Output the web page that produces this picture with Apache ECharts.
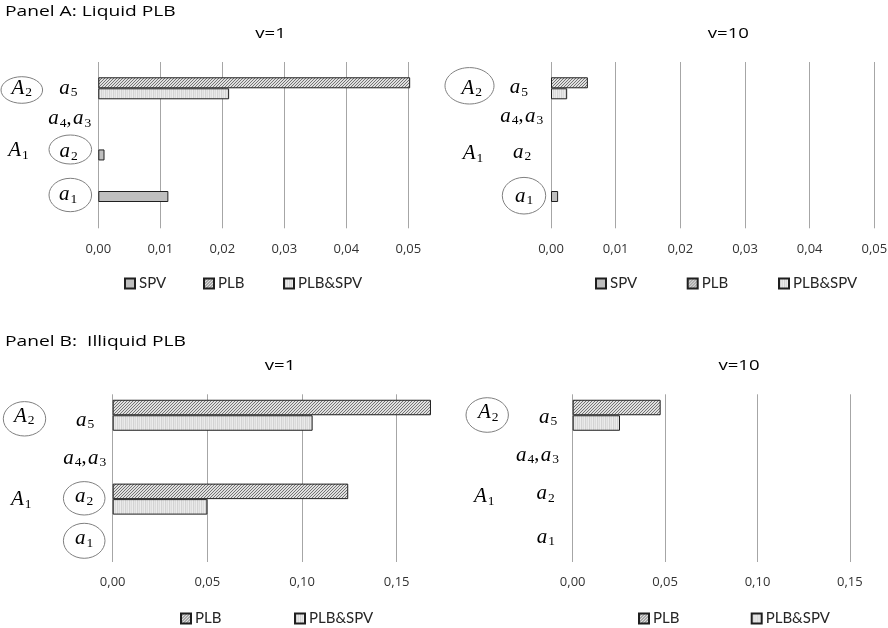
<!DOCTYPE html>
<html><head><meta charset="utf-8">
<script src="https://cdn.jsdelivr.net/npm/echarts@6/dist/echarts.min.js"></script>
<style>html,body{margin:0;padding:0;background:#fff}#c{width:888px;height:628px}</style>
</head><body><div id="c"></div>
<script>
// ---------- data ----------
const categories = ['a5', 'a4,a3', 'a2', 'a1'];
const namesA = ['SPV', 'PLB', 'PLB&SPV'];
const namesB = ['PLB', 'PLB&SPV'];
// Panel A (Liquid PLB), v=1
const A1_SPV  = [null, null, 0.0010, 0.0113];
const A1_PLB  = [0.0503, null, null, null];
const A1_BOTH = [0.0211, null, null, null];
// Panel A, v=10
const A10_SPV  = [null, null, null, 0.0011];
const A10_PLB  = [0.0057, null, null, null];
const A10_BOTH = [0.0025, null, null, null];
// Panel B (Illiquid PLB), v=1
const B1_PLB  = [0.1681, null, 0.1244, null];
const B1_BOTH = [0.1056, null, 0.0500, null];
// Panel B, v=10
const B10_PLB  = [0.0476, null, null, null];
const B10_BOTH = [0.0256, null, null, null];
// tick values
const ticksA = [0, 0.01, 0.02, 0.03, 0.04, 0.05];
const ticksB = [0, 0.05, 0.10, 0.15];

// ---------- patterns ----------
function pat(w, h, draw) { const c = document.createElement('canvas'); c.width = w; c.height = h; draw(c.getContext('2d')); return c; }
const plbCanvas = pat(3, 3, g => {
  g.fillStyle = '#e0e0e0'; g.fillRect(0, 0, 3, 3);
  for (let i = 0; i < 3; i++) {
    g.fillStyle = '#737373'; g.fillRect(2 - i, i, 1, 1);
  }
});
const bothCanvas = pat(4, 1, g => {
  const cols = ['#ececec', '#d3d3d3', '#e6e6e6', '#dbdbdb'];
  cols.forEach((c, i) => { g.fillStyle = c; g.fillRect(i, 0, 1, 1); });
});
const STY = {
  'SPV': '#bfbfbf',
  'PLB': { image: plbCanvas, repeat: 'repeat' },
  'PLB&SPV': { image: bothCanvas, repeat: 'repeat' }
};
const FONT = 'Lato, "Open Sans", sans-serif';
const AXFONT = '"Open Sans", Lato, sans-serif';
const MATH = '"Liberation Serif", "DejaVu Serif", serif';

function fmt(v) { return v.toFixed(2).replace('.', ','); }

function axesFor(gi, max, interval, ticks) {
  return {
    x: {
      type: 'value', gridIndex: gi, min: 0, max: max, interval: interval,
      axisLine: { show: false }, axisTick: { show: false },
      splitLine: { show: true, showMinLine: true, showMaxLine: false, lineStyle: { color: '#a6a6a6', width: 1 } },
      axisLabel: {
        showMaxLabel: false, margin: 14, fontSize: 13, color: '#333', fontFamily: AXFONT,
        formatter: v => (ticks.some(t => Math.abs(t - v) < 1e-9) ? fmt(v) : '')
      }
    },
    y: {
      type: 'category', gridIndex: gi, data: categories, inverse: true,
      axisLine: { show: false }, axisTick: { show: false }, axisLabel: { show: false }, splitLine: { show: false }
    }
  };
}
function bar(name, data, gi, bw) {
  return {
    type: 'bar', name: name, data: data, xAxisIndex: gi, yAxisIndex: gi,
    barWidth: bw, barGap: '0%', silent: true, animation: false,
    itemStyle: { color: STY[name], borderColor: '#1f1f1f', borderWidth: 1 }
  };
}

const ax = [
  axesFor(0, 0.055, 0.01, ticksA),
  axesFor(1, 0.055, 0.01, ticksA),
  axesFor(2, 0.18, 0.05, ticksB),
  axesFor(3, 0.18, 0.05, ticksB)
];

const grids = [
  { left: 98.3, top: 62, width: 341, height: 166.3 },
  { left: 551, top: 62, width: 355.7, height: 166.3 },
  { left: 112.7, top: 394.3, width: 340.8, height: 167.7 },
  { left: 572.7, top: 394.3, width: 332.6, height: 167.7 }
].map(g => Object.assign({ outerBoundsMode: 'none', containLabel: false }, g));

const series = [
  bar('SPV', A1_SPV, 0, 11), bar('PLB', A1_PLB, 0, 11), bar('PLB&SPV', A1_BOTH, 0, 11),
  bar('SPV', A10_SPV, 1, 11), bar('PLB', A10_PLB, 1, 11), bar('PLB&SPV', A10_BOTH, 1, 11),
  bar('PLB', B1_PLB, 2, 15.5), bar('PLB&SPV', B1_BOTH, 2, 15.5),
  bar('PLB', B10_PLB, 3, 15.5), bar('PLB&SPV', B10_BOTH, 3, 15.5)
];

function leg(name, left, cy) {
  return {
    data: [name], left: left, top: cy - 9, padding: 0, itemWidth: 10, itemHeight: 10, icon: 'rect',
    selectedMode: false, itemGap: 0,
    textStyle: { fontFamily: FONT, fontSize: 15, color: '#262626', padding: [0, 0, 0, -1] }
  };
}
const legends = [
  leg('SPV', 124, 285), leg('PLB', 203, 285), leg('PLB&SPV', 283, 285),
  leg('SPV', 595, 285), leg('PLB', 686.7, 285), leg('PLB&SPV', 778, 285),
  leg('PLB', 180, 620), leg('PLB&SPV', 294, 620),
  leg('PLB', 638, 620), leg('PLB&SPV', 750.7, 620)
];

// ---------- annotations ----------
const R = {
  i: { fontFamily: MATH, fontStyle: 'italic', fontSize: 21, fill: '#000', lineHeight: 22 },
  s: { fontFamily: MATH, fontSize: 13.5, fill: '#000', padding: [9, 0, 0, 1] },
  n: { fontFamily: MATH, fontSize: 20, fill: '#000', lineHeight: 22 },
  w: { fontFamily: MATH, fontSize: 6, lineHeight: 22 }
};
const LBL = {
  'A2': '{i|A}{s|2}', 'A1': '{i|A}{s|1}', 'a5': '{i|a}{s|5}', 'a43': '{i|a}{s|4}{n|,}{w| }{i|a}{s|3}',
  'a2': '{i|a}{s|2}', 'a1': '{i|a}{s|1}'
};
function mtext(key, x, y) {
  return { type: 'text', x: x, y: y, silent: true, z: 100,
    style: { text: LBL[key], rich: R, align: 'center', verticalAlign: 'middle' } };
}
function ell(cx, cy, rx, ry) {
  return { type: 'ellipse', silent: true, z: 100, shape: { cx: cx, cy: cy, rx: rx, ry: ry },
    style: { fill: null, stroke: '#808080', lineWidth: 1 } };
}
function ptext(t, x, y, align, size, sx) {
  return { type: 'text', x: x, y: y, scaleX: sx, silent: true, z: 100,
    style: { text: t, fontFamily: AXFONT, fontSize: size, fill: '#000', align: align, verticalAlign: 'middle' } };
}
const graphics = [
  ptext('Panel A: Liquid PLB', 5, 12, 'left', 15, 1.28),
  ptext('v=1', 270.5, 34, 'center', 14.5, 1.28),
  ptext('v=10', 728.3, 34, 'center', 14.5, 1.28),
  ptext('Panel B:  Illiquid PLB', 5, 342, 'left', 15, 1.28),
  ptext('v=1', 280, 366, 'center', 14.5, 1.28),
  ptext('v=10', 739, 366, 'center', 14.5, 1.28),
  // Panel A v=1
  ell(21.8, 90, 20.8, 13.3), mtext('A2', 21.7, 88), mtext('a5', 68.3, 88), mtext('a43', 69.7, 118.5),
  mtext('A1', 18.5, 150.5), ell(70.3, 149.5, 21.3, 14.5), mtext('a2', 68.5, 151.5),
  ell(70.3, 195, 21.3, 16.7), mtext('a1', 68, 194.5),
  // Panel A v=10
  ell(469.5, 85.8, 24.5, 18.2), mtext('A2', 471.7, 88), mtext('a5', 518.8, 87.5), mtext('a43', 521.7, 116),
  mtext('A1', 473, 153.5), mtext('a2', 522, 152),
  ell(524, 195.7, 21.7, 18.3), mtext('a1', 524, 196),
  // Panel B v=1
  ell(24.5, 418.8, 21.2, 17.2), mtext('A2', 24.2, 416), mtext('a5', 85.2, 420), mtext('a43', 84.7, 458),
  mtext('A1', 21.3, 499.5), ell(84.2, 498.3, 20.8, 16.7), mtext('a2', 84, 496.5),
  ell(84.2, 540.8, 20.8, 17.5), mtext('a1', 84, 538.5),
  // Panel B v=10
  ell(487.2, 415, 21.2, 17.3), mtext('A2', 488.3, 412.5), mtext('a5', 548.2, 417), mtext('a43', 537.5, 455),
  mtext('A1', 484.2, 496.5), mtext('a2', 545.5, 493.5), mtext('a1', 545.8, 537)
];

const chart = echarts.init(document.getElementById('c'), null, { renderer: 'canvas' });
chart.setOption({
  animation: false,
  backgroundColor: '#fff',
  grid: grids,
  xAxis: ax.map(a => a.x),
  yAxis: ax.map(a => a.y),
  legend: legends,
  series: series,
  graphic: graphics
});
</script>
</body></html>
